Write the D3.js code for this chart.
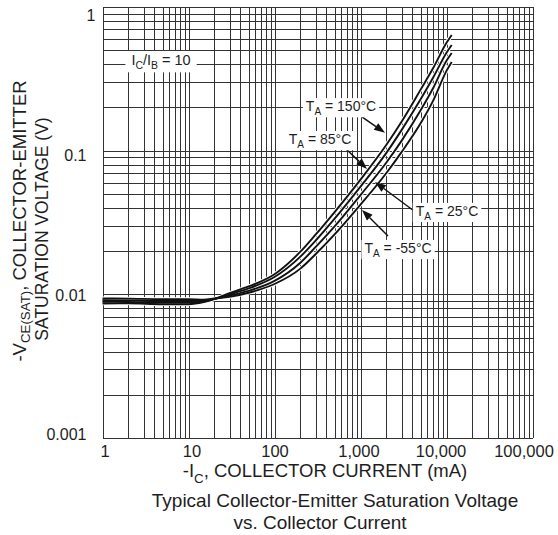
<!DOCTYPE html>
<html>
<head>
<meta charset="utf-8">
<script src="https://cdn.jsdelivr.net/npm/d3@7"></script>
<style>
  body { margin: 0; background: #fff; }
  svg text { font-family: Arial, "Liberation Sans", sans-serif; fill: #1e1e1e; }
</style>
</head>
<body>
<svg width="558" height="535"></svg>
<script>
// collector current (mA) where the curves were read
var currents = [1, 2, 5, 10, 15, 20, 30, 50, 100, 200, 300, 500, 1000, 2000, 3000, 5000, 7000, 10000, 11500];

// -VCE(sat) in volts, one array per ambient temperature
var vce150 = [0.00864, 0.00866, 0.00854, 0.00854, 0.00882, 0.00925, 0.0102, 0.01134, 0.0138, 0.0198, 0.0260, 0.0374, 0.0629, 0.110, 0.159, 0.266, 0.376, 0.563, 0.639];
var vce85  = [0.00887, 0.00885, 0.00877, 0.00877, 0.00891, 0.0093, 0.0100, 0.0110, 0.0132, 0.0183, 0.0236, 0.0336, 0.0562, 0.0965, 0.139, 0.228, 0.323, 0.481, 0.544];
var vce25  = [0.00909, 0.00907, 0.00899, 0.00899, 0.0090, 0.0093, 0.0098, 0.01058, 0.0124, 0.0166, 0.0213, 0.0297, 0.0491, 0.0827, 0.117, 0.191, 0.273, 0.422, 0.478];
var vceM55 = [0.00936, 0.00934, 0.00926, 0.00926, 0.00918, 0.00935, 0.0096, 0.01026, 0.0118, 0.0151, 0.0190, 0.0261, 0.0421, 0.0699, 0.0977, 0.155, 0.223, 0.359, 0.414];

var xTicks = [1, 10, 100, 1000, 10000, 100000];
var xTickLabels = ["1", "10", "100", "1,000", "10,000", "100,000"];
var yTicks = [0.001, 0.01, 0.1, 1];
var yTickLabels = ["0.001", "0.01", "0.1", "1"];

var series = [
  { temp: "150°C", values: vce150 },
  { temp: "85°C",  values: vce85 },
  { temp: "25°C",  values: vce25 },
  { temp: "-55°C", values: vceM55 }
];

var svg = d3.select("svg");
var margin = { left: 102.5, right: 25.5, top: 7, bottom: 97 };
var width = +svg.attr("width"), height = +svg.attr("height");

var x = d3.scaleLog().domain([1, 100000]).range([margin.left, width - margin.right]);
var y = d3.scaleLog().domain([0.001, 1]).range([height - margin.bottom, margin.top]);

// grid: every 1..9 in each decade
var xGrid = [], yGrid = [];
for (var d = 1; d < 100000; d *= 10) for (var k = 1; k < 10; k++) xGrid.push(d * k);
xGrid.push(100000);
for (var e = 0.001; e < 0.9; e *= 10) for (var k2 = 1; k2 < 10; k2++) yGrid.push(e * k2);
yGrid.push(1);

var grid = svg.append("g").attr("stroke", "#333").attr("stroke-width", 1).attr("shape-rendering", "crispEdges");
grid.selectAll(".vx").data(xGrid).enter().append("line")
    .attr("x1", function(d) { return Math.round(x(d)) + 0.5; })
    .attr("x2", function(d) { return Math.round(x(d)) + 0.5; })
    .attr("y1", y(1)).attr("y2", y(0.001));
grid.selectAll(".hy").data(yGrid).enter().append("line")
    .attr("y1", function(d) { return Math.round(y(d)) + 0.5; })
    .attr("y2", function(d) { return Math.round(y(d)) + 0.5; })
    .attr("x1", x(1)).attr("x2", x(100000));

// axes (labels only, grid does the lines)
var xAxis = svg.append("g")
    .attr("transform", "translate(0," + (y(0.001) + 4) + ")")
    .call(d3.axisBottom(x).tickValues(xTicks).tickSize(0).tickFormat(function(d, i) { return xTickLabels[i]; }));
xAxis.select(".domain").remove();
xAxis.selectAll("text").attr("font-size", 16.5).attr("fill", "#1e1e1e")
    .attr("dx", function(d, i) { return [2, 3, 0, -2, -6, -9][i]; });

var yAxis = svg.append("g")
    .attr("transform", "translate(" + (x(1) - 13) + ",0)")
    .call(d3.axisLeft(y).tickValues(yTicks).tickSize(0).tickFormat(function(d, i) { return yTickLabels[i]; }));
yAxis.select(".domain").remove();
yAxis.selectAll("text").attr("font-size", 16).attr("fill", "#1e1e1e")
    .attr("dy", function(d, i) { return [-4, 1, 4, 8][i] + 5.5; })
    .attr("dx", function(d, i) { return i == 3 ? 9 : 0; });

// curves: white halo then black line
var line = d3.line()
    .x(function(d, i) { return x(currents[i]); })
    .y(function(d) { return y(d); })
    .curve(d3.curveMonotoneX);

var curves = svg.append("g");
series.forEach(function(s) {
  curves.append("path").attr("d", line(s.values))
      .attr("fill", "none").attr("stroke", "#fff").attr("stroke-width", 3.8);
});
series.forEach(function(s) {
  curves.append("path").attr("d", line(s.values))
      .attr("fill", "none").attr("stroke", "#111").attr("stroke-width", 1.9);
});

// annotations in data coordinates
var notes = [
  { t: "150°C", at: [593, 0.201],   from: [1040, 0.172],  tip: [1928, 0.133] },
  { t: "85°C",  at: [338, 0.1187],  from: [660, 0.1044],  tip: [1191, 0.0746] },
  { t: "25°C",  at: [10140, 0.0375], from: [4190, 0.038], tip: [1475, 0.0606] },
  { t: "-55°C", at: [2730, 0.0207], from: [2090, 0.0255], tip: [1040, 0.0387] }
];

function subText(g, cx, cy, size, parts, drop) {
  drop = drop || 0.3;
  var t = g.append("text").attr("x", cx).attr("y", cy).attr("text-anchor", "middle")
      .attr("font-size", size);
  parts.forEach(function(p) {
    var sp = t.append("tspan").text(p[0]);
    if (p[1] == "sub") sp.attr("font-size", size * 0.72).attr("dy", size * drop);
    if (p[1] == "up") sp.attr("dy", -size * drop);
  });
  return t;
}

function boxed(g, textSel, padX, padY) {
  var bb = textSel.node().getBBox();
  g.insert("rect", function() { return textSel.node(); })
      .attr("x", bb.x - padX).attr("y", bb.y - padY)
      .attr("width", bb.width + 2 * padX).attr("height", bb.height + 2 * padY)
      .attr("fill", "#fff");
}

var ann = svg.append("g");
notes.forEach(function(n) {
  var x0 = x(n.from[0]), y0 = y(n.from[1]), x1 = x(n.tip[0]), y1 = y(n.tip[1]);
  var ang = Math.atan2(y1 - y0, x1 - x0), L = 11, W = 4;
  var bx = x1 - L * Math.cos(ang), by = y1 - L * Math.sin(ang);
  ann.append("line").attr("x1", x0).attr("y1", y0).attr("x2", bx).attr("y2", by)
      .attr("stroke", "#111").attr("stroke-width", 1.4);
  ann.append("path")
      .attr("d", "M" + x1 + "," + y1 +
                 "L" + (bx + W * Math.sin(ang)) + "," + (by - W * Math.cos(ang)) +
                 "L" + (bx - W * Math.sin(ang)) + "," + (by + W * Math.cos(ang)) + "Z")
      .attr("fill", "#111");
  var g = ann.append("g");
  var t = subText(g, x(n.at[0]), y(n.at[1]) + 4, 14, [["T"], ["A", "sub"], [" = " + n.t, "up"]]);
  boxed(g, t, 3, 0);
});

var rg = svg.append("g");
var rt = subText(rg, x(4.79), y(0.421) + 4, 14.5, [["I"], ["C", "sub"], ["/I", "up"], ["B", "sub"], [" = 10", "up"]]);
boxed(rg, rt, 6, 1);

// axis titles and caption
subText(svg, 325, 477, 18.5, [["-I"], ["C", "sub"], [", COLLECTOR CURRENT (mA)", "up"]]);
svg.append("text").attr("x", 335).attr("y", 507).attr("text-anchor", "middle").attr("font-size", 19)
    .text("Typical Collector-Emitter Saturation Voltage");
svg.append("text").attr("x", 320).attr("y", 529).attr("text-anchor", "middle").attr("font-size", 19)
    .text("vs. Collector Current");

var yl1 = svg.append("g").attr("transform", "translate(26,221) rotate(-90)");
subText(yl1, 0, 0, 18.5, [["-V"], ["CE(SAT)", "sub"], [", COLLECTOR-EMITTER", "up"]], 0.2);
svg.append("text").attr("transform", "translate(48,229) rotate(-90)")
    .attr("text-anchor", "middle").attr("font-size", 17.5)
    .text("SATURATION VOLTAGE (V)");
</script>
</body>
</html>
